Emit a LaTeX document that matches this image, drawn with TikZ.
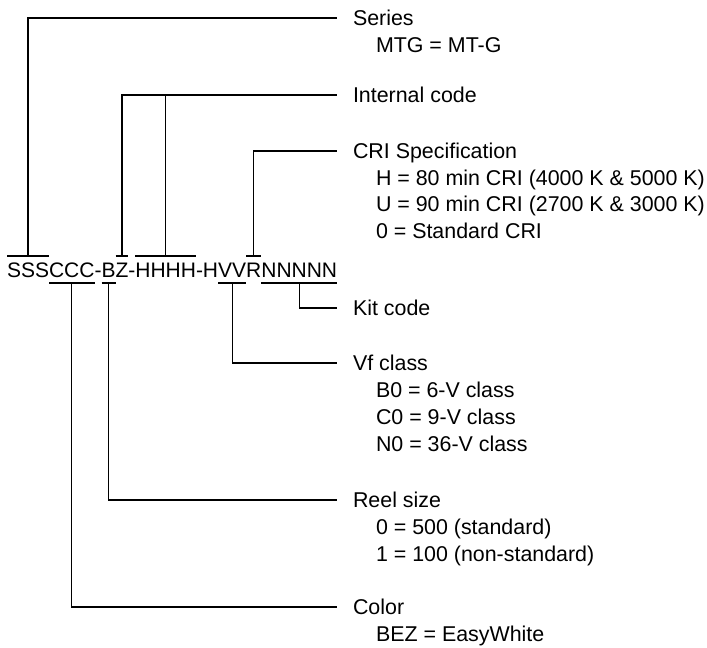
\documentclass[tikz,border=0pt]{standalone}
\usepackage{fontspec}
\setmainfont{Liberation Sans}
\begin{document}
\begin{tikzpicture}[x=1pt,y=-1pt,
  every node/.style={inner sep=0pt,outer sep=0pt,font=\fontsize{21}{26}\selectfont},
  seg/.style={anchor=base west},
  lbl/.style={anchor=base west,font=\fontsize{21.4}{26}\selectfont},
  wire/.style={line width=1.2pt},
  bar/.style={line width=1.2pt}]
\useasboundingbox (0,0) rectangle (707,648);
% code string, segment by segment
\node[seg] (s) at (7,277) {SSS};
\node[seg] (c) at (s.base east) {CCC};
\node[seg] (d1) at (c.base east) {-};
\node[seg] (b) at (d1.base east) {B};
\node[seg] (z) at (b.base east) {Z};
\node[seg] (d2) at (z.base east) {-};
\node[seg] (h) at (d2.base east) {HHHH};
\node[seg] (d3) at (h.base east) {-H};
\node[seg] (v) at (d3.base east) {VV};
\node[seg] (r) at (v.base east) {R};
\node[seg] (n) at (r.base east) {NNNNN};
% bars over / under
\foreach \k in {s,z,h,r}{
  \draw[bar] ([yshift=21pt]\k.base west) -- ([yshift=21pt]\k.base east);
  \coordinate (\k T) at ([yshift=21pt]\k.base);
}
\foreach \k in {c,b,v,n}{
  \draw[bar] ([yshift=-6pt]\k.base west) -- ([yshift=-6pt]\k.base east);
  \coordinate (\k B) at ([yshift=-6pt]\k.base);
}
% labels
\node[lbl] (series) at (353,25.5) {Series};
\node[lbl] (seriesA) at (376,52) {MTG = MT-G};
\node[lbl] (intr) at (353,102.5) {Internal code};
\node[lbl] (cri) at (353,158.5) {CRI Specification};
\node[lbl] (criA) at (376,185) {H = 80 min CRI (4000 K \& 5000 K)};
\node[lbl] (criB) at (376,211.5) {U = 90 min CRI (2700 K \& 3000 K)};
\node[lbl] (criC) at (376,238) {0 = Standard CRI};
\node[lbl] (kit) at (353,315.5) {Kit code};
\node[lbl] (vf) at (353,370.5) {Vf class};
\node[lbl] (vfA) at (376,397.5) {B0 = 6-V class};
\node[lbl] (vfB) at (376,424.5) {C0 = 9-V class};
\node[lbl] (vfC) at (376,451.5) {N0 = 36-V class};
\node[lbl] (reel) at (353,507.5) {Reel size};
\node[lbl] (reelA) at (376,534.5) {0 = 500 (standard)};
\node[lbl] (reelB) at (376,561.5) {1 = 100 (non-standard)};
\node[lbl] (col) at (353,614.5) {Color};
\node[lbl] (colA) at (376,641) {BEZ = EasyWhite};
% line ends beside the titles
\foreach \t in {series,intr,cri,kit,vf,reel,col}{
  \coordinate (\t E) at ([shift={(-16pt,7.5pt)}]\t.base west);
}
% connectors
\draw[wire] (sT) |- (seriesE);
\draw[wire] (zT) |- (intrE);
\draw[wire] (hT) -- (hT |- intrE);
\draw[wire] (rT) |- (criE);
\draw[wire] (nB) |- (kitE);
\draw[wire] (vB) |- (vfE);
\draw[wire] (bB) |- (reelE);
\draw[wire] (cB) |- (colE);
\end{tikzpicture}
\end{document}
